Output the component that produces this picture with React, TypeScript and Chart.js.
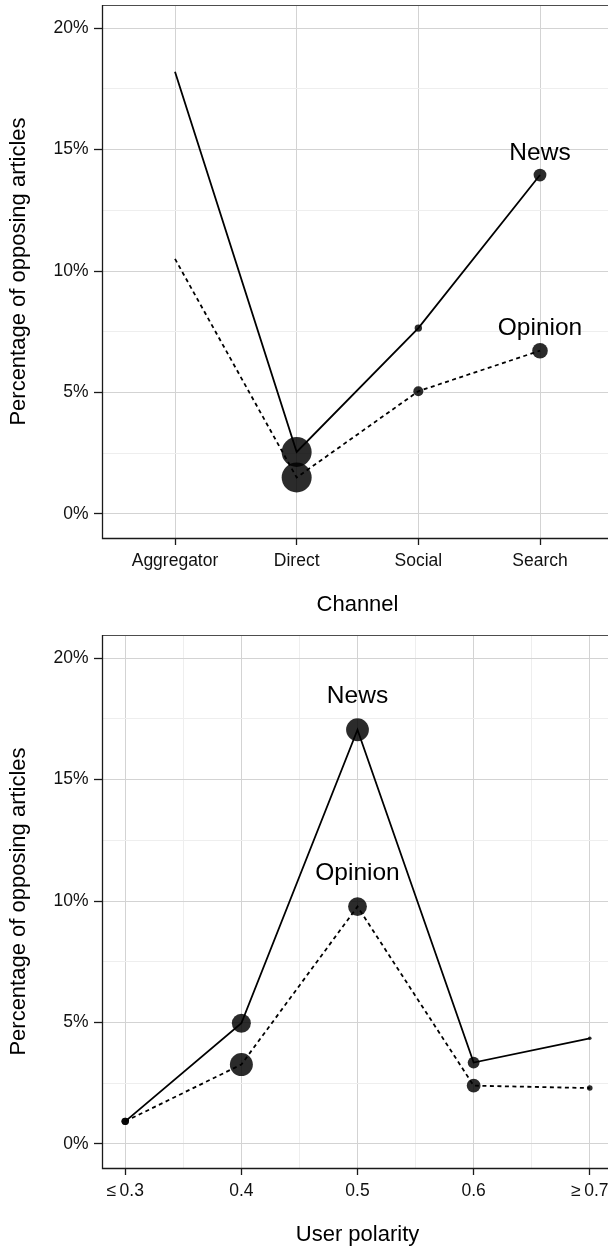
import React, { useEffect, useRef } from "react";
import { Chart, registerables } from "chart.js";

Chart.register(...registerables);

// ---------- data ----------
const channels = ["Aggregator", "Direct", "Social", "Search"];
const channelNews = [18.2, 2.55, 7.65, 13.95];
const channelOpinion = [10.5, 1.5, 5.05, 6.72];
const channelNewsSize = [0, 15, 3.7, 6.4];
const channelOpinionSize = [0, 15, 5, 7.8];

const polarityValues = [0.3, 0.4, 0.5, 0.6, 0.7];
const polarityTickLabels = ["\u2264\u20090.3", "0.4", "0.5", "0.6", "\u2265\u20090.7"];
const polarityMinorTicks = [0.35, 0.45, 0.55, 0.65];
const polarityNews = [0.93, 4.97, 17.05, 3.35, 4.35];
const polarityOpinion = [0.93, 3.27, 9.77, 2.4, 2.3];
const polarityNewsSize = [3.7, 9.5, 11.4, 5.9, 1.8];
const polarityOpinionSize = [3.7, 11.5, 9.4, 6.9, 2.8];

const yTicks = [0, 2.5, 5, 7.5, 10, 12.5, 15, 17.5, 20];
const channelLabels = [
  { text: "News", x: 4, y: 14.94 },
  { text: "Opinion", x: 4, y: 7.72 },
];
const polarityLabels = [
  { text: "News", x: 0.5, y: 18.53 },
  { text: "Opinion", x: 0.5, y: 11.23 },
];

// ---------- style ----------
const W = 620;
const H = 630;
const FONT = '"Liberation Sans", Arial, Helvetica, sans-serif';
const MAJOR = "#d3d3d3";
const MINOR = "#eeeeee";
const POINT = "rgba(0,0,0,0.83)";
const LABEL_SIZE = 24.5;

Chart.defaults.font.family = FONT;

function panelPlugin(labels: { text: string; x: number; y: number }[]) {
  return {
    id: "panelDecor",
    afterDatasetsDraw(chart: any) {
      const { ctx, scales } = chart;
      ctx.save();
      ctx.font = `${LABEL_SIZE}px ${FONT}`;
      ctx.fillStyle = "#000";
      ctx.textAlign = "center";
      ctx.textBaseline = "alphabetic";
      labels.forEach((l) => {
        // y value marks the centre of the capital letters
        const baseline = scales.y.getPixelForValue(l.y) + LABEL_SIZE * 0.358;
        ctx.fillText(l.text, scales.x.getPixelForValue(l.x), baseline);
      });
      ctx.restore();
    },
    afterDraw(chart: any) {
      const { ctx, chartArea: a } = chart;
      ctx.save();
      ctx.strokeStyle = "#4d4d4d";
      ctx.lineWidth = 1;
      ctx.beginPath();
      ctx.moveTo(a.left, a.top + 0.5);
      ctx.lineTo(a.right + 5, a.top + 0.5);
      ctx.stroke();
      ctx.strokeStyle = "#1a1a1a";
      ctx.lineWidth = 1.3;
      ctx.beginPath();
      ctx.moveTo(a.left + 0.5, a.top);
      ctx.lineTo(a.left + 0.5, a.bottom + 0.5);
      ctx.lineTo(a.right + 5, a.bottom + 0.5);
      ctx.stroke();
      ctx.restore();
    },
  };
}

function buildConfig(opts: {
  xs: number[];
  news: number[];
  opinion: number[];
  newsSize: number[];
  opinionSize: number[];
  xMin: number;
  xMax: number;
  xMajor: number[];
  xMinor: number[];
  xLabel: (v: number) => string;
  xTitle: string;
  labels: { text: string; x: number; y: number }[];
}): any {
  const pts = (vals: number[]) => opts.xs.map((x, i) => ({ x, y: vals[i] }));
  const isMajorX = (v: number) => opts.xMajor.some((m) => Math.abs(m - v) < 1e-9);
  return {
    type: "scatter",
    data: {
      datasets: [
        {
          data: pts(opts.news),
          pointRadius: opts.newsSize,
          pointBackgroundColor: POINT,
          pointBorderWidth: 0,
          showLine: false,
          order: 3,
        },
        {
          data: pts(opts.opinion),
          pointRadius: opts.opinionSize,
          pointBackgroundColor: POINT,
          pointBorderWidth: 0,
          showLine: false,
          order: 3,
        },
        {
          data: pts(opts.news),
          showLine: true,
          borderColor: "#000",
          borderWidth: 1.8,
          pointRadius: 0,
          order: 1,
        },
        {
          data: pts(opts.opinion),
          showLine: true,
          borderColor: "#000",
          borderWidth: 1.8,
          borderDash: [4, 3.5],
          pointRadius: 0,
          order: 1,
        },
      ],
    },
    options: {
      responsive: false,
      animation: false,
      devicePixelRatio: 1,
      events: [],
      layout: { autoPadding: false, padding: { top: 5, right: 7, left: 0, bottom: 0 } },
      plugins: { legend: { display: false }, tooltip: { enabled: false } },
      scales: {
        x: {
          type: "linear",
          min: opts.xMin,
          max: opts.xMax,
          afterBuildTicks: (s: any) => {
            s.ticks = [...opts.xMajor, ...opts.xMinor]
              .sort((a, b) => a - b)
              .map((v) => ({ value: v }));
          },
          afterFit: (s: any) => {
            s.height = H - 538;
            s.paddingLeft = 0;
            s.paddingRight = 0;
          },
          ticks: {
            autoSkip: false,
            maxRotation: 0,
            minRotation: 0,
            padding: 5.5,
            color: "#111",
            font: { size: 17.5 },
            callback: (v: number) => (isMajorX(v) ? opts.xLabel(v) : ""),
          },
          grid: {
            color: (c: any) => (c.tick && isMajorX(c.tick.value) ? MAJOR : MINOR),
            lineWidth: 1,
            tickLength: 7,
            tickWidth: 1.3,
            tickColor: (c: any) => (c.tick && isMajorX(c.tick.value) ? "#1a1a1a" : "rgba(0,0,0,0)"),
          },
          border: { display: false },
          title: {
            display: true,
            text: opts.xTitle,
            color: "#000",
            font: { size: 22 },
            padding: { top: 0, bottom: 11.8 },
          },
        },
        y: {
          type: "linear",
          min: -0.99,
          max: 20.95,
          afterBuildTicks: (s: any) => {
            s.ticks = yTicks.map((v) => ({ value: v }));
          },
          afterFit: (s: any) => {
            s.width = 102;
            s.paddingTop = 0;
            s.paddingBottom = 0;
          },
          ticks: {
            autoSkip: false,
            padding: 5.5,
            color: "#111",
            font: { size: 17.5 },
            callback: (v: number) => (v % 5 === 0 ? `${v}%` : ""),
          },
          grid: {
            color: (c: any) => (c.tick && c.tick.value % 5 === 0 ? MAJOR : MINOR),
            lineWidth: 1,
            tickLength: 8,
            tickWidth: 1.3,
            tickColor: (c: any) => (c.tick && c.tick.value % 5 === 0 ? "#1a1a1a" : "rgba(0,0,0,0)"),
          },
          border: { display: false },
          title: {
            display: true,
            text: "Percentage of opposing articles",
            color: "#000",
            font: { size: 22 },
            padding: { top: 5.5, bottom: 0 },
          },
        },
      },
    },
    plugins: [panelPlugin(opts.labels)],
  };
}

function Panel({ top, config }: { top: number; config: () => any }) {
  const ref = useRef<HTMLCanvasElement>(null);
  useEffect(() => {
    const chart = new Chart(ref.current as HTMLCanvasElement, config());
    return () => chart.destroy();
  }, []);
  return (
    <canvas
      ref={ref}
      width={W}
      height={H}
      style={{ position: "absolute", left: 0, top, width: W, height: H, display: "block" }}
    />
  );
}

export default function App() {
  useEffect(() => {
    document.body.style.margin = "0";
    document.body.style.overflow = "hidden";
  }, []);

  const channelX = channels.map((_, i) => i + 1);

  return (
    <div style={{ position: "relative", width: 608, height: 1248, overflow: "hidden", background: "#fff" }}>
      <Panel
        top={0}
        config={() =>
          buildConfig({
            xs: channelX,
            news: channelNews,
            opinion: channelOpinion,
            newsSize: channelNewsSize,
            opinionSize: channelOpinionSize,
            xMin: 0.4,
            xMax: channels.length + 0.6,
            xMajor: channelX,
            xMinor: [],
            xLabel: (v) => channels[Math.round(v) - 1] ?? "",
            xTitle: "Channel",
            labels: channelLabels,
          })
        }
      />
      <Panel
        top={630}
        config={() =>
          buildConfig({
            xs: polarityValues,
            news: polarityNews,
            opinion: polarityOpinion,
            newsSize: polarityNewsSize,
            opinionSize: polarityOpinionSize,
            xMin: 0.28,
            xMax: 0.72,
            xMajor: polarityValues,
            xMinor: polarityMinorTicks,
            xLabel: (v) => {
              const i = polarityValues.findIndex((p) => Math.abs(p - v) < 1e-9);
              return i >= 0 ? polarityTickLabels[i] : "";
            },
            xTitle: "User polarity",
            labels: polarityLabels,
          })
        }
      />
    </div>
  );
}
